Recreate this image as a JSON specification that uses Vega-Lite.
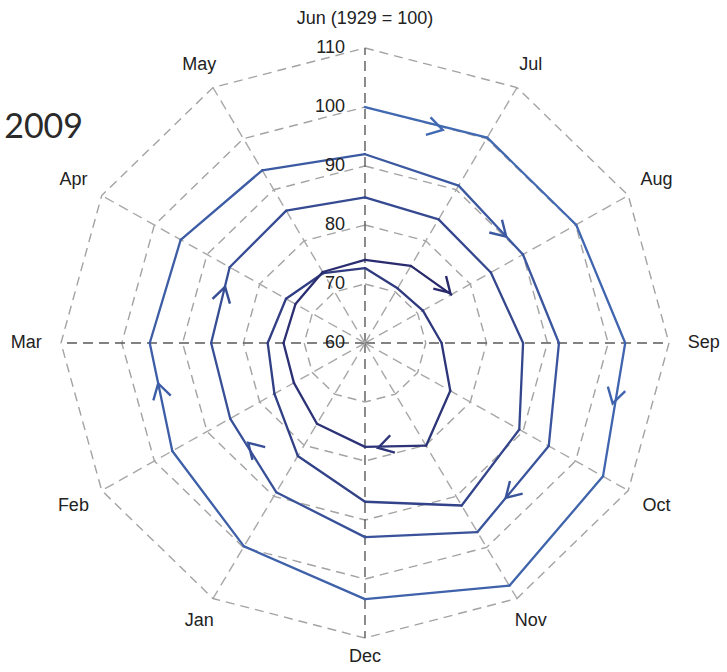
{
  "$schema": "https://vega.github.io/schema/vega-lite/v6.json",
  "width": 727,
  "height": 672,
  "padding": 0,
  "autosize": {"type": "none"},
  "background": "white",
  "config": {"view": {"stroke": null}},
  "datasets": {
    "spiral": [
      {"t": 0, "v": 100.0}, {"t": 1, "v": 100.2}, {"t": 2, "v": 100.1}, {"t": 3, "v": 102.8},
      {"t": 4, "v": 105.2}, {"t": 5, "v": 107.5}, {"t": 6, "v": 103.4}, {"t": 7, "v": 99.8},
      {"t": 8, "v": 96.6}, {"t": 9, "v": 95.4}, {"t": 10, "v": 95.0}, {"t": 11, "v": 93.8},
      {"t": 12, "v": 92.0}, {"t": 13, "v": 90.8}, {"t": 14, "v": 90.0}, {"t": 15, "v": 91.9},
      {"t": 16, "v": 94.9}, {"t": 17, "v": 97.0}, {"t": 18, "v": 92.9}, {"t": 19, "v": 89.2},
      {"t": 20, "v": 85.6}, {"t": 21, "v": 85.3}, {"t": 22, "v": 85.7}, {"t": 23, "v": 85.9},
      {"t": 24, "v": 84.7}, {"t": 25, "v": 84.2}, {"t": 26, "v": 83.9}, {"t": 27, "v": 86.0},
      {"t": 28, "v": 89.3}, {"t": 29, "v": 91.8}, {"t": 30, "v": 86.9}, {"t": 31, "v": 82.1},
      {"t": 32, "v": 77.2}, {"t": 33, "v": 76.0}, {"t": 34, "v": 75.0}, {"t": 35, "v": 73.7},
      {"t": 36, "v": 72.7}, {"t": 37, "v": 70.7}, {"t": 38, "v": 71.0}, {"t": 39, "v": 72.6},
      {"t": 40, "v": 76.2}, {"t": 41, "v": 80.1}, {"t": 42, "v": 77.6}, {"t": 43, "v": 75.8},
      {"t": 44, "v": 73.5}, {"t": 45, "v": 73.4}, {"t": 46, "v": 73.2}, {"t": 47, "v": 73.9},
      {"t": 48, "v": 74.1}, {"t": 49, "v": 75.1}, {"t": 50, "v": 76.4}
    ],
    "arrows": [
      {"a": 0.65, "v": 98.3, "t": 0},
      {"a": 1.74, "v": 89.4, "t": 13},
      {"a": 1.96, "v": 76.4, "t": 49},
      {"a": 3.47, "v": 102.0, "t": 3},
      {"a": 4.62, "v": 95.0, "t": 16},
      {"a": 5.77, "v": 77.9, "t": 41},
      {"a": 7.62, "v": 85.6, "t": 19},
      {"a": 8.62, "v": 94.7, "t": 8},
      {"a": 9.75, "v": 84.9, "t": 21}
    ],
    "rings": [
      {"ring": 70, "m": [0,1,2,3,4,5,6,7,8,9,10,11,12]},
      {"ring": 80, "m": [0,1,2,3,4,5,6,7,8,9,10,11,12]},
      {"ring": 90, "m": [0,1,2,3,4,5,6,7,8,9,10,11,12]},
      {"ring": 100, "m": [0,1,2,3,4,5,6,7,8,9,10,11,12]},
      {"ring": 110, "m": [0,1,2,3,4,5,6,7,8,9,10,11,12]}
    ],
    "months": [
      {"m": 0, "label": "Jun (1929 = 100)"}, {"m": 1, "label": "Jul"}, {"m": 2, "label": "Aug"},
      {"m": 3, "label": "Sep"}, {"m": 4, "label": "Oct"}, {"m": 5, "label": "Nov"},
      {"m": 6, "label": "Dec"}, {"m": 7, "label": "Jan"}, {"m": 8, "label": "Feb"},
      {"m": 9, "label": "Mar"}, {"m": 10, "label": "Apr"}, {"m": 11, "label": "May"}
    ],
    "levels": [
      {"level": 60}, {"level": 70}, {"level": 80}, {"level": 90}, {"level": 100}, {"level": 110}
    ],
    "note": [
      {"label": "2009", "px": -60.0, "py": 34.7}
    ]
  },
  "encoding": {
    "x": {"field": "x", "type": "quantitative", "axis": null, "scale": {"domain": [-60.03, 59.54], "nice": false, "zero": false}},
    "y": {"field": "y", "type": "quantitative", "axis": null, "scale": {"domain": [-55.76, 58.14], "nice": false, "zero": false}}
  },
  "layer": [
    {
      "data": {"name": "rings"},
      "transform": [
        {"flatten": ["m"]},
        {"calculate": "(datum.ring-60)*sin(datum.m*PI/6)", "as": "x"},
        {"calculate": "(datum.ring-60)*cos(datum.m*PI/6)", "as": "y"}
      ],
      "mark": {"type": "line", "color": "#a3a3a3", "strokeWidth": 1.4, "strokeDash": [9, 6]},
      "encoding": {
        "detail": {"field": "ring", "type": "nominal"},
        "order": {"field": "m", "type": "quantitative"}
      }
    },
    {
      "data": {"name": "months"},
      "transform": [
        {"calculate": "0", "as": "x"},
        {"calculate": "0", "as": "y"},
        {"calculate": "50*sin(datum.m*PI/6)", "as": "x2"},
        {"calculate": "50*cos(datum.m*PI/6)", "as": "y2"}
      ],
      "mark": {"type": "rule", "strokeWidth": 1.4, "strokeDash": [10, 6]},
      "encoding": {
        "x2": {"field": "x2"},
        "y2": {"field": "y2"},
        "color": {"condition": {"test": "datum.m % 3 == 0", "value": "#5a5a5a"}, "value": "#a8a8a8"}
      }
    },
    {
      "data": {"name": "spiral"},
      "transform": [
        {"calculate": "(datum.v-60)*sin(datum.t*PI/6)", "as": "x"},
        {"calculate": "(datum.v-60)*cos(datum.t*PI/6)", "as": "y"},
        {"window": [{"op": "lead", "field": "x", "as": "x2"}, {"op": "lead", "field": "y", "as": "y2"}], "sort": [{"field": "t", "order": "ascending"}]},
        {"filter": "datum.x2 != null"}
      ],
      "mark": {"type": "rule", "strokeWidth": 2.3, "strokeCap": "round"},
      "encoding": {
        "x2": {"field": "x2"},
        "y2": {"field": "y2"},
        "color": {"field": "t", "type": "quantitative", "scale": {"domain": [0, 50], "range": ["#4169b2", "#28296b"]}, "legend": null}
      }
    },
    {
      "data": {"name": "arrows"},
      "transform": [
        {"calculate": "(datum.v-60)*sin(datum.a*PI/6)", "as": "x"},
        {"calculate": "(datum.v-60)*cos(datum.a*PI/6)", "as": "y"},
        {"calculate": "(floor(datum.a)+0.5)*30", "as": "ang"}
      ],
      "mark": {"type": "point", "shape": "M-1,-0.6L0,0L-1,0.6", "filled": false, "strokeWidth": 2.4, "size": 900, "opacity": 1},
      "encoding": {
        "angle": {"field": "ang", "type": "quantitative", "scale": null},
        "color": {"field": "t", "type": "quantitative", "legend": null}
      }
    },
    {
      "data": {"name": "months"},
      "transform": [
        {"calculate": "datum.m == 0 ? 55 : 53.3 + 2.4*abs(sin(datum.m*PI/6))", "as": "lr"},
        {"calculate": "datum.lr*sin(datum.m*PI/6)", "as": "x"},
        {"calculate": "datum.lr*cos(datum.m*PI/6)", "as": "y"}
      ],
      "mark": {"type": "text", "font": "Liberation Sans", "fontSize": 18, "color": "#222222", "align": "center", "baseline": "middle"},
      "encoding": {"text": {"field": "label"}}
    },
    {
      "data": {"name": "levels"},
      "transform": [
        {"calculate": "0", "as": "x"},
        {"calculate": "datum.level-60", "as": "y"}
      ],
      "mark": {"type": "text", "font": "Liberation Sans", "fontSize": 18, "color": "#222222", "align": "right", "baseline": "middle", "dx": -20},
      "encoding": {"text": {"field": "level", "type": "quantitative"}}
    },
    {
      "data": {"name": "note"},
      "mark": {"type": "text", "font": "Lato", "fontSize": 34, "color": "#2a2a2a", "align": "left", "baseline": "alphabetic", "dx": 4},
      "encoding": {
        "x": {"field": "px", "type": "quantitative"},
        "y": {"field": "py", "type": "quantitative"},
        "text": {"field": "label"}
      }
    }
  ]
}
